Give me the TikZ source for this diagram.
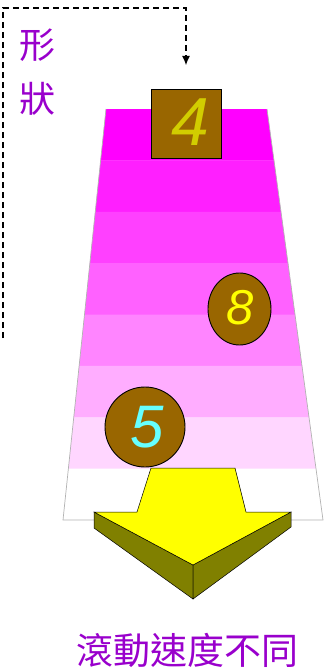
\documentclass[tikz,border=0pt]{standalone}
\usepackage{fontspec}
\setmainfont{Liberation Sans}
\newfontfamily\cjk{Noto Sans CJK TC}
\usetikzlibrary{arrows.meta,shapes.geometric}
\definecolor{purp}{RGB}{153,0,204}
\definecolor{mag}{RGB}{255,0,255}
\definecolor{yel}{RGB}{255,255,0}
\definecolor{brownball}{RGB}{153,102,0}
\definecolor{darkyel}{RGB}{210,205,0}
\definecolor{cyanish}{RGB}{102,255,255}
\definecolor{olivec}{RGB}{128,128,0}
\tikzset{
  ball/.style={draw=black, line width=0.9pt, fill=brownball, inner sep=0pt},
  digit/.style={font=\fontsize{#1}{#1}\selectfont\itshape},
  cjklabel/.style={text=purp, font=\cjk\fontsize{36}{40}\selectfont, inner sep=0pt},
}
\begin{document}
\begin{tikzpicture}[x=1pt,y=-1pt]
\useasboundingbox (0,0) rectangle (324,669);
% trapezoid bands
\foreach \i/\c in {0/100,1/88,2/75,3/62,4/48,5/32,6/16,7/0}{
  \pgfmathsetmacro{\da}{\i*51.375}
  \pgfmathsetmacro{\db}{(\i+1)*51.375}
  \pgfmathsetmacro{\ta}{109+\da}
  \pgfmathsetmacro{\tb}{109+\db}
  \pgfmathsetmacro{\la}{106-0.104623*\da}
  \pgfmathsetmacro{\lb}{106-0.104623*\db}
  \pgfmathsetmacro{\ra}{267+0.136253*\da}
  \pgfmathsetmacro{\rb}{267+0.136253*\db}
  \fill[mag!\c!white] (\la,\ta) -- (\ra,\ta) -- (\rb,\tb+0.3) -- (\lb,\tb+0.3) -- cycle;
}
\draw[gray!60, line width=0.7pt] (106,109) -- (63,520) -- (323,520) -- (267,109);
% arrow
\coordinate (tl) at (151,468);
\coordinate (tr) at (235,468);
\coordinate (ml) at (137,512);
\coordinate (mr) at (246,512);
\coordinate (wl) at (94,512);
\coordinate (wr) at (291,512);
\coordinate (tip) at (193,565);
\coordinate (tipb) at (193,599);
\coordinate (wlb) at (94,528);
\coordinate (wrb) at (291,527);
\filldraw[fill=olivec, draw=black, line width=0.5pt] (wl) -- (tip) -- (tipb) -- (wlb) -- cycle;
\filldraw[fill=olivec, draw=black, line width=0.5pt] (wr) -- (tip) -- (tipb) -- (wrb) -- cycle;
\filldraw[fill=yel, draw=black, line width=0.5pt] (tl) -- (tr) -- (mr) -- (wr) -- (tip) -- (wl) -- (ml) -- cycle;
% balls
\node[ball, rectangle, minimum width=70pt, minimum height=69pt] (b4) at (186,123.5) {};
\node[text=darkyel, digit=68, inner sep=0pt] (t4) at (190,122) {4};
\node[ball, ellipse, minimum width=63pt, minimum height=72pt] (b8) at (239.5,309) {};
\node[text=yel, digit=49, inner sep=0pt] (t8) at (240,308) {8};
\node[ball, circle, minimum size=80pt] (b5) at (145,427) {};
\node[text=cyanish, digit=60, inner sep=0pt] (t5) at (147,427) {5};
% dashed connector
\coordinate (ds) at (3,338);
\coordinate (dc1) at (3,8);
\coordinate (dc2) at (186,8);
\coordinate (de) at (186,65);
\draw[dash pattern=on 6pt off 4pt, line width=1.1pt, -{Latex[length=9pt,width=8pt]}] (ds) -- (dc1) -- (dc2) -- (de);
% labels
\node[cjklabel] (x1) at (37,45) {形};
\node[cjklabel] (x2) at (37,99) {狀};
\node[cjklabel, font=\cjk\fontsize{37}{40}\selectfont] (bot) at (187,650) {滾動速度不同};
\end{tikzpicture}
\end{document}
